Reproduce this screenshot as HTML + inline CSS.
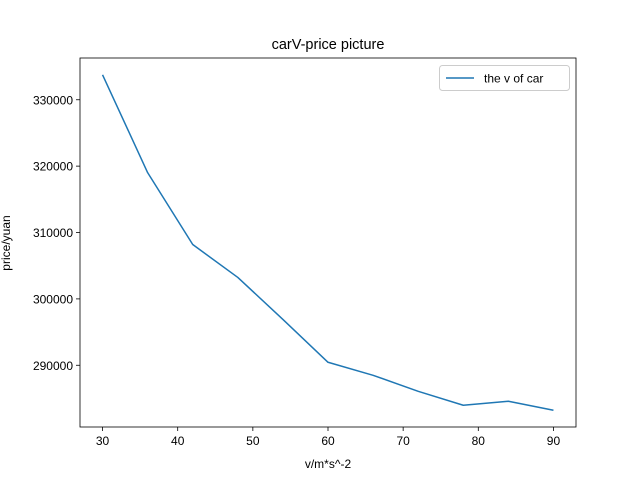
<!DOCTYPE html>
<html><head><meta charset="utf-8"><style>
body{margin:0;background:#fff;}
svg{display:block;font-family:"Liberation Sans","DejaVu Sans",sans-serif;}
</style></head><body>
<svg id="chart" width="640" height="480"></svg>
<script>
const xValues=[30,36,42,48,54,60,66,72,78,84,90];
const yValues=[333760,319020,308190,303230,296910,290450,288490,286080,283980,284580,283230];
const xTicks=[30,40,50,60,70,80,90];
const yTicks=[290000,300000,310000,320000,330000];
const L=80,R=576,T=58,B=427;
const xmin=27,xmax=93;
const ymin=280700,ymax=336290;
const sx=v=>L+(v-xmin)/(xmax-xmin)*(R-L);
const sy=v=>B-(v-ymin)/(ymax-ymin)*(B-T);
const svg=document.getElementById('chart');
const NS='http://www.w3.org/2000/svg';
function mk(tag,attrs,parent){const e=document.createElementNS(NS,tag);for(const k in attrs)e.setAttribute(k,attrs[k]);(parent||svg).appendChild(e);return e;}
let t=mk('text',{x:328,y:49,'text-anchor':'middle','font-size':14.5,fill:'#000'});t.textContent='carV-price picture';


xTicks.forEach(v=>{const x=sx(v);
 const l=mk('line',{x1:x,x2:x,y1:B,y2:B+4,stroke:'#000','stroke-width':0.8});
 
 
 const tx=mk('text',{x:x,y:B+18,'text-anchor':'middle','font-size':12,fill:'#000'});tx.textContent=v;
 
 
});
yTicks.forEach(v=>{const y=sy(v);
 const l=mk('line',{x1:L-4,x2:L,y1:y,y2:y,stroke:'#000','stroke-width':0.8});
 
 
 const tx=mk('text',{x:L-7,y:y+4.5,'text-anchor':'end','font-size':12,fill:'#000'});tx.textContent=v;
 
 
});
const pts=xValues.map((x,i)=>sx(x)+','+sy(yValues[i])).join(' ');
const line=mk('polyline',{points:pts,fill:'none',stroke:'#1f77b4','stroke-width':1.5,'stroke-linejoin':'round'});


const frame=mk('rect',{x:L,y:T,width:R-L,height:B-T,fill:'none',stroke:'#000','stroke-width':0.8});


const xl=mk('text',{x:328,y:468,'text-anchor':'middle','font-size':12,fill:'#000'});xl.textContent='v/m*s^-2';


const yl=mk('text',{x:0,y:0,transform:'translate(10,243) rotate(-90)','text-anchor':'middle','font-size':12,fill:'#000'});yl.textContent='price/yuan';


const lg=mk('g',{});


mk('rect',{x:439.5,y:65.5,width:130,height:25,rx:3,fill:'#fff',stroke:'#ccc','stroke-width':1},lg);
mk('line',{x1:446,x2:474,y1:78,y2:78,stroke:'#1f77b4','stroke-width':1.5},lg);
const lt=mk('text',{x:484,y:82.5,'font-size':12,fill:'#000'},lg);lt.textContent='the v of car';
</script>
</body></html>
